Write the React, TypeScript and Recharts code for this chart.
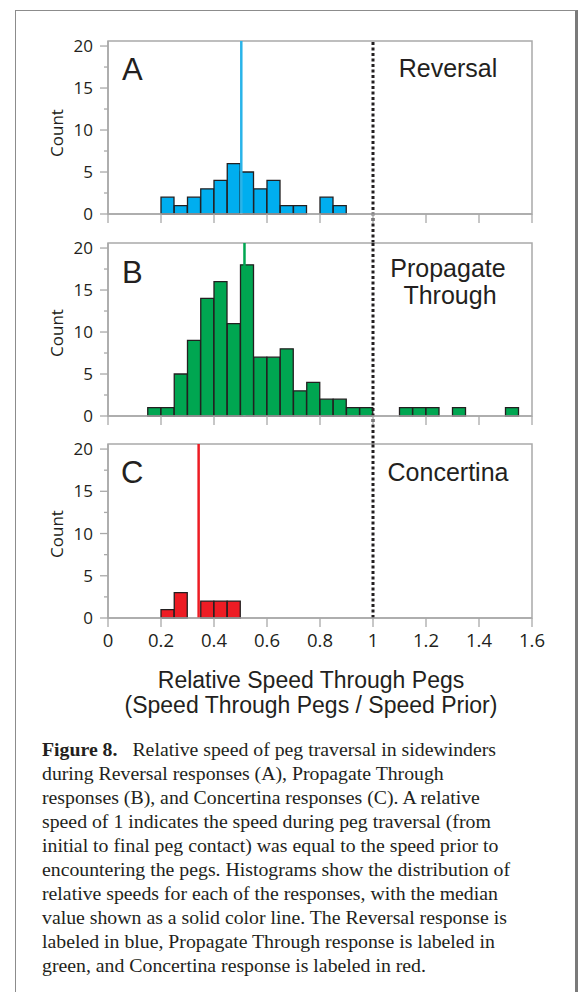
import React from 'react';
import { ComposedChart, Bar, XAxis, YAxis, ReferenceLine, ReferenceArea } from 'recharts';

// ---------- data ----------
const X_TICKS = [0, 0.2, 0.4, 0.6, 0.8, 1, 1.2, 1.4, 1.6];
const Y_TICKS = [0, 2.5, 5, 7.5, 10, 12.5, 15, 17.5, 20];
const BIN_WIDTH = 0.05;
const SPEED_PRIOR = 1;

const reversalBinStarts = [0.2, 0.25, 0.3, 0.35, 0.4, 0.45, 0.5, 0.55, 0.6, 0.65, 0.7, 0.75, 0.8, 0.85];
const reversalCounts = [2, 1, 2, 3, 4, 6, 5, 3, 4, 1, 1, 0, 2, 1];
const reversalMedian = 0.503;

const propagateBinStarts = [
  0.15, 0.2, 0.25, 0.3, 0.35, 0.4, 0.45, 0.5, 0.55, 0.6, 0.65, 0.7, 0.75, 0.8,
  0.85, 0.9, 0.95, 1.0, 1.05, 1.1, 1.15, 1.2, 1.25, 1.3, 1.35, 1.4, 1.45, 1.5,
];
const propagateCounts = [1, 1, 5, 9, 14, 16, 11, 18, 7, 7, 8, 3, 4, 2, 2, 1, 1, 0, 0, 1, 1, 1, 0, 1, 0, 0, 0, 1];
const propagateMedian = 0.515;

const concertinaBinStarts = [0.2, 0.25, 0.3, 0.35, 0.4, 0.45];
const concertinaCounts = [1, 3, 0, 2, 2, 2];
const concertinaMedian = 0.342;

const CAPTION_LINES = [
  'during Reversal responses (A), Propagate Through',
  'responses (B), and Concertina responses (C). A relative',
  'speed of 1 indicates the speed during peg traversal (from',
  'initial to final peg contact) was equal to the speed prior to',
  'encountering the pegs. Histograms show the distribution of',
  'relative speeds for each of the responses, with the median',
  'value shown as a solid color line. The Reversal response is',
  'labeled in blue, Propagate Through response is labeled in',
  'green, and Concertina response is labeled in red.',
];

// ---------- styles ----------
const AXIS_COLOR = '#a9a9a9';
const INK = '#231f20';
const TICK_FONT = '"Open Sans", "Noto Sans", sans-serif';
const LABEL_FONT = '"Liberation Sans", Arial, sans-serif';
const Y_MAX = 20.6;

const toData = (starts: number[], counts: number[]) =>
  starts.map((s, i) => ({ x: s + BIN_WIDTH / 2, count: counts[i] }));

const YTick = (props: any) => {
  const { x, y, payload } = props;
  const major = payload.value % 5 === 0;
  return (
    <g>
      <line x1={x - (major ? 8 : 4)} x2={x} y1={y} y2={y} stroke={AXIS_COLOR} strokeWidth={1.3} />
      {major && (
        <text x={x - 15} y={y} dy="0.36em" textAnchor="end" fontFamily={TICK_FONT} fontSize={17} fill={INK}>
          {payload.value}
        </text>
      )}
    </g>
  );
};

const XTick = (props: any) => {
  const { x, y, payload, showLabel } = props;
  return (
    <g>
      <line x1={x} x2={x} y1={y} y2={y + 9} stroke={AXIS_COLOR} strokeWidth={1.3} />
      {showLabel && (
        <text x={x} y={y + 28.5} textAnchor="middle" fontFamily={TICK_FONT} fontSize={18.5} fill={INK}>
          {String(payload.value)}
        </text>
      )}
    </g>
  );
};

type PanelProps = {
  top: number;
  height: number;
  margin: { top: number; right: number; bottom: number; left: number };
  xAxisHeight: number;
  data: { x: number; count: number }[];
  color: string;
  median: number;
  medianColor: string;
  showXLabels: boolean;
  dotBottom: number;
};

const Panel = (p: PanelProps) => (
  <div style={{ position: 'absolute', left: 0, top: p.top }}>
    <ComposedChart width={560} height={p.height} data={p.data} margin={p.margin} barCategoryGap={0} barGap={0}>
      <XAxis
        dataKey="x"
        type="number"
        domain={[0, 1.6]}
        ticks={X_TICKS}
        interval={0}
        height={p.xAxisHeight}
        tickSize={0}
        tickMargin={0}
        tickLine={false}
        axisLine={{ stroke: AXIS_COLOR, strokeWidth: 1.5 }}
        tick={(tp: any) => <XTick {...tp} showLabel={p.showXLabels} />}
      />
      <YAxis
        type="number"
        domain={[0, Y_MAX]}
        ticks={Y_TICKS}
        interval={0}
        width={60}
        tickSize={0}
        tickMargin={0}
        tickLine={false}
        axisLine={{ stroke: AXIS_COLOR, strokeWidth: 1.5 }}
        tick={(tp: any) => <YTick {...tp} />}
      />
      <ReferenceArea x1={0} x2={1.6} y1={0} y2={Y_MAX} fill="none" stroke={AXIS_COLOR} strokeWidth={1.5} ifOverflow="visible" />
      <Bar dataKey="count" fill={p.color} stroke={INK} strokeWidth={1.3} isAnimationActive={false} />
      <ReferenceLine x={p.median} stroke={p.medianColor} strokeWidth={2.5} ifOverflow="visible" />
      <ReferenceLine
        segment={[
          { x: SPEED_PRIOR, y: p.dotBottom },
          { x: SPEED_PRIOR, y: Y_MAX },
        ]}
        stroke={INK}
        strokeWidth={3}
        strokeDasharray="3 2.5"
        ifOverflow="visible"
      />
    </ComposedChart>
  </div>
);

const Txt = (props: { left: number; top: number; size: number; children: React.ReactNode; center?: boolean; width?: number; family?: string }) => (
  <div
    style={{
      position: 'absolute',
      left: props.center ? props.left - (props.width || 200) / 2 : props.left,
      top: props.top,
      width: props.center ? props.width || 200 : undefined,
      textAlign: props.center ? 'center' : 'left',
      fontSize: props.size,
      lineHeight: 1,
      fontFamily: props.family || LABEL_FONT,
      color: INK,
      whiteSpace: 'nowrap',
    }}
  >
    {props.children}
  </div>
);

const CountLabel = ({ cy }: { cy: number }) => (
  <div
    style={{
      position: 'absolute',
      left: 57 - 40,
      top: cy - 11,
      width: 80,
      height: 22,
      lineHeight: '22px',
      textAlign: 'center',
      fontFamily: TICK_FONT,
      fontSize: 17,
      color: INK,
      transform: 'rotate(-90deg)',
    }}
  >
    Count
  </div>
);

export default function App() {
  return (
    <div style={{ position: 'absolute', left: 0, top: 0, width: 581, height: 992, background: '#fff', overflow: 'hidden' }}>
      <div
        style={{
          position: 'absolute',
          left: 15,
          top: 10,
          width: 559,
          height: 990,
          borderLeft: '1px solid #8c8c8c',
          borderTop: '1px solid #8c8c8c',
          borderRight: '3px solid #7a7a7a',
        }}
      />
      <Panel
        top={30}
        height={213}
        margin={{ top: 11, right: 28, bottom: 17, left: 48 }}
        xAxisHeight={12}
        data={toData(reversalBinStarts, reversalCounts)}
        color="#00aeef"
        median={reversalMedian}
        medianColor="#29b4e9"
        showXLabels={false}
        dotBottom={-3.45}
      />
      <Panel
        top={236}
        height={208}
        margin={{ top: 7, right: 28, bottom: 16, left: 48 }}
        xAxisHeight={12}
        data={toData(propagateBinStarts, propagateCounts)}
        color="#00a651"
        median={propagateMedian}
        medianColor="#00a651"
        showXLabels={false}
        dotBottom={-3.33}
      />
      <Panel
        top={437}
        height={225}
        margin={{ top: 7, right: 28, bottom: 0, left: 48 }}
        xAxisHeight={44}
        data={toData(concertinaBinStarts, concertinaCounts)}
        color="#ed1c24"
        median={concertinaMedian}
        medianColor="#ed1c24"
        showXLabels={true}
        dotBottom={0}
      />

      <CountLabel cy={133} />
      <CountLabel cy={333} />
      <CountLabel cy={534} />

      <Txt left={122} top={54} size={31}>A</Txt>
      <Txt left={122} top={257} size={31}>B</Txt>
      <Txt left={121} top={457} size={31}>C</Txt>

      <Txt left={448} top={55.5} size={25} center>Reversal</Txt>
      <Txt left={448} top={255.5} size={25} center>Propagate</Txt>
      <Txt left={450} top={283} size={25} center>Through</Txt>
      <Txt left={448} top={460} size={25} center>Concertina</Txt>

      <Txt left={311} top={668.5} size={23} center width={480}>Relative Speed Through Pegs</Txt>
      <Txt left={311} top={693.5} size={23} center width={480}>(Speed Through Pegs / Speed Prior)</Txt>

      <div
        style={{
          position: 'absolute',
          left: 42,
          top: 738.4,
          fontFamily: '"Liberation Serif", "Times New Roman", serif',
          fontSize: 19.8,
          lineHeight: '23.9px',
          color: INK,
          whiteSpace: 'nowrap',
        }}
      >
        <div>
          <span style={{ fontWeight: 'bold', marginRight: 10 }}>Figure 8.</span> Relative speed of peg traversal in sidewinders
        </div>
        {CAPTION_LINES.map((l, i) => (
          <div key={i}>{l}</div>
        ))}
      </div>
    </div>
  );
}
